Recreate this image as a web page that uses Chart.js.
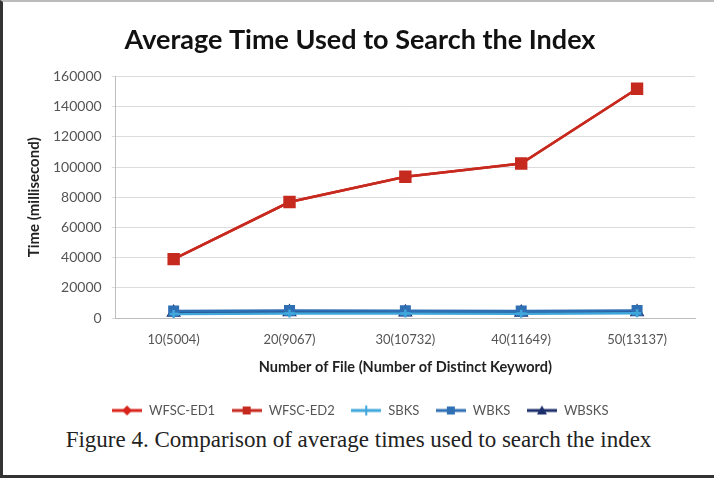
<!DOCTYPE html>
<html>
<head>
<meta charset="utf-8">
<script src="https://cdn.jsdelivr.net/npm/chart.js@4.4.1/dist/chart.umd.min.js"></script>
<style>
  html, body { margin: 0; padding: 0; background: #fff; }
  #frame {
    position: relative; width: 714px; height: 478px; box-sizing: border-box;
    border-left: 3px solid #333; border-top: 2px solid #bbb; border-bottom: 3px solid #333;
    overflow: hidden;
  }
  #wrap { position: absolute; left: -3px; top: -2px; width: 714px; height: 427px; }
  #caption {
    position: absolute; left: 0; width: 711px; top: 425px; text-align: center;
    font-family: "Liberation Serif", serif; font-size: 23px; color: #222; line-height: 26px;
  }
</style>
</head>
<body>
<div id="frame">
  <div id="wrap"><canvas id="c"></canvas></div>
  <div id="caption">Figure 4. Comparison of average times used to search the index</div>
</div>
<script>
const labels = ['10(5004)', '20(9067)', '30(10732)', '40(11649)', '50(13137)'];
const wfscEd1 = [39000, 76800, 93500, 102300, 151800];
const wfscEd2 = [39000, 76800, 93500, 102300, 151800];
const sbks = [2600, 2900, 2900, 2800, 3100];
const wbks = [4600, 4900, 4800, 4700, 5000];
const wbsks = [3600, 3900, 3800, 3700, 4000];

// legend swatch: short line with the marker in the middle, like Excel
const swatch = (color, style) => {
  const cv = document.createElement('canvas');
  cv.width = 30; cv.height = 12;
  const g = cv.getContext('2d');
  g.strokeStyle = color; g.lineWidth = 3;
  g.beginPath(); g.moveTo(0, 6); g.lineTo(30, 6); g.stroke();
  g.fillStyle = color;
  g.beginPath();
  if (style === 'rect') g.rect(11, 2, 8, 8);
  else if (style === 'rectRot') { g.moveTo(15, 1); g.lineTo(20, 6); g.lineTo(15, 11); g.lineTo(10, 6); }
  else if (style === 'triangle') { g.moveTo(15, 1); g.lineTo(20, 10); g.lineTo(10, 10); }
  else if (style === 'cross') { g.rect(14, 1, 2, 10); g.rect(10, 5, 10, 2); }
  g.closePath(); g.fill();
  return cv;
};

const mk = (label, data, color, style, radius, order) => ({
  label, data, borderColor: color, backgroundColor: color,
  borderWidth: 2.5, pointStyle: style, pointRadius: radius, pointHoverRadius: radius,
  tension: 0, order, legendSwatch: swatch(color, style)
});

const series = [
  mk('WFSC-ED1', wfscEd1, '#d9241c', 'rectRot', 4, 1),
  mk('WFSC-ED2', wfscEd2, '#c62a1f', 'rect', 7, 0),
  mk('SBKS', sbks, '#3fa7dc', 'cross', 4, 0),
  mk('WBKS', wbks, '#2f6fb3', 'rect', 6, 0),
  mk('WBSKS', wbsks, '#1c2e6b', 'triangle', 6, 0)
];

new Chart(document.getElementById('c'), {
  type: 'line',
  data: { labels, datasets: series },
  options: {
    responsive: true, maintainAspectRatio: false, animation: false,
    layout: { padding: { top: 24, left: 25, right: 19, bottom: 0 } },
    plugins: {
      title: {
        display: true, text: 'Average Time Used to Search the Index',
        font: { family: 'Lato', size: 27, weight: 'bold' }, color: '#111',
        padding: { top: 0, bottom: 20 }
      },
      legend: {
        position: 'bottom',
        labels: {
          usePointStyle: true, pointStyleWidth: 31, padding: 16,
          font: { family: 'Lato', size: 13 }, color: '#555',
          generateLabels: chart => chart.data.datasets.map((d, i) => ({
            text: d.label, pointStyle: d.legendSwatch, datasetIndex: i,
            fillStyle: d.borderColor, strokeStyle: d.borderColor, lineWidth: 0, fontColor: '#555'
          }))
        }
      },
      tooltip: { enabled: false }
    },
    scales: {
      x: {
        offset: true,
        grid: { display: false },
        border: { display: true, color: '#bdbdbd' },
        ticks: { font: { family: 'Lato', size: 13 }, color: '#555', padding: 6 },
        title: {
          display: true, text: 'Number of File (Number of Distinct Keyword)',
          font: { family: 'Lato', size: 14.5, weight: 'bold' }, color: '#222', padding: { top: 5, bottom: 12 }
        }
      },
      y: {
        min: 0, max: 160000,
        grid: { color: '#dcdcdc', tickLength: 4 },
        border: { display: true, color: '#bdbdbd' },
        ticks: {
          stepSize: 20000, font: { family: 'Lato', size: 14 }, color: '#555', padding: 10,
          callback: v => String(v)
        },
        title: {
          display: true, text: 'Time (millisecond)',
          font: { family: 'Lato', size: 15, weight: 'bold' }, color: '#222', padding: { top: 0, bottom: 0 }
        }
      }
    }
  }
});
</script>
</body>
</html>
